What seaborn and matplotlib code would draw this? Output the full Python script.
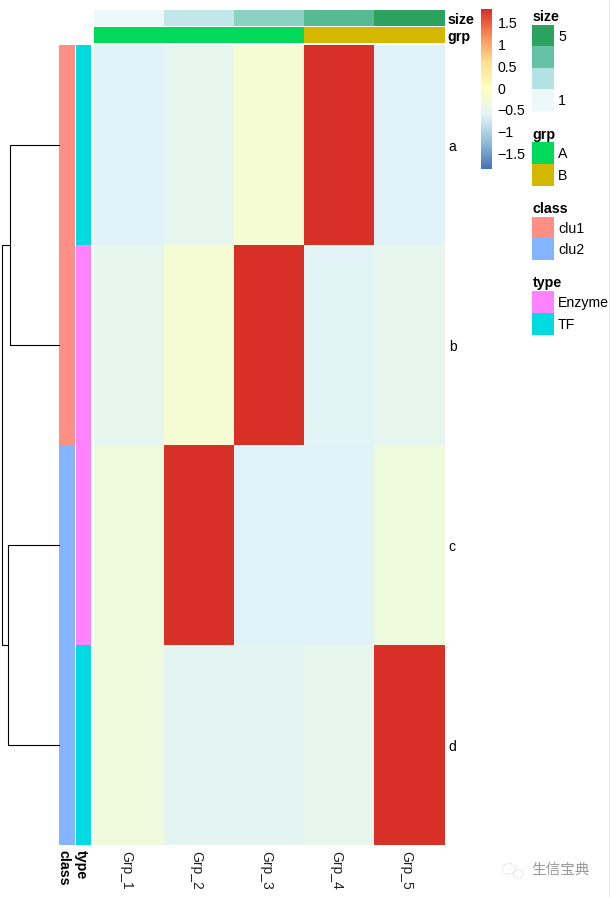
"""Clustered heatmap with row and column annotation bars."""

import numpy as np
import matplotlib
matplotlib.use('Agg')
import matplotlib.pyplot as plt
from matplotlib.colors import LinearSegmentedColormap, ListedColormap
from matplotlib.patches import Ellipse
from matplotlib.transforms import ScaledTranslation
import seaborn as sns

# Data
groups = ['Grp_1', 'Grp_2', 'Grp_3', 'Grp_4', 'Grp_5']
genes = ['a', 'b', 'c', 'd']
values = np.array([
    [-0.60, -0.50, -0.20, 1.80, -0.60],
    [-0.50, -0.20, 1.80, -0.58, -0.50],
    [-0.30, 1.80, -0.60, -0.60, -0.30],
    [-0.30, -0.52, -0.52, -0.48, 1.80],
])
size = [1, 2, 3, 4, 5]
grp = ['A', 'A', 'A', 'B', 'B']
gene_class = ['clu1', 'clu1', 'clu2', 'clu2']
gene_type = ['TF', 'Enzyme', 'Enzyme', 'TF']
heat_ticks = [1.5, 1, 0.5, 0, -0.5, -1, -1.5]
merge_heights = [0.86, 0.895, 1.0]  # ab, cd, root

heat_colors = ['#4575b4', '#91bfdb', '#e0f3f8', '#ffffbf', '#fee090', '#fc8d59', '#d73027']
size_colors = ['#edf8fb', '#b2e2e2', '#66c2a4', '#2ca25f']
grp_colors = {'A': '#00da5a', 'B': '#d4b800'}
class_colors = {'clu1': '#ff8f84', 'clu2': '#82b4ff'}
type_colors = {'Enzyme': '#ff83ff', 'TF': '#00dae0'}

W, H = 610, 897

sns.set_style('white')
plt.rcParams['font.family'] = ['Liberation Sans', 'Noto Sans CJK SC', 'DejaVu Sans']
plt.rcParams['font.size'] = 10
plt.rcParams['text.color'] = 'black'
plt.rcParams['axes.labelcolor'] = 'black'
plt.rcParams['xtick.color'] = 'black'
plt.rcParams['ytick.color'] = 'black'

fig = plt.figure(figsize=(W / 100, H / 100), dpi=100)


def px_axes(x0, y0, x1, y1):
    """Axes placed by pixel box, y counted from the top"""
    ax = fig.add_axes([x0 / W, 1 - y1 / H, (x1 - x0) / W, (y1 - y0) / H])
    return ax


def shift_px(label, dx, dy):
    """Nudge a text by pixels, dy counted downwards"""
    offset = ScaledTranslation(dx / 100, -dy / 100, fig.dpi_scale_trans)
    label.set_transform(label.get_transform() + offset)


def cat_bar(ax, items, palette, vertical=False):
    """Draw one categorical annotation strip"""
    names = list(palette)
    codes = np.array([names.index(i) for i in items], dtype=float)
    codes = codes.reshape(-1, 1) if vertical else codes.reshape(1, -1)
    sns.heatmap(codes, ax=ax, cmap=ListedColormap([palette[n] for n in names]),
                vmin=-0.5, vmax=len(names) - 0.5, cbar=False,
                xticklabels=False, yticklabels=False)


def legend_block(box, title, labels, colors, title_y, tick_rows=None):
    """Stacked colour key with title and labels"""
    ax = px_axes(*box)
    codes = np.arange(len(colors), dtype=float).reshape(-1, 1)
    sns.heatmap(codes, ax=ax, cmap=ListedColormap(colors), cbar=False,
                xticklabels=False, yticklabels=False)
    fig.text(532.5 / W, 1 - (title_y + 2) / H, title, fontweight='bold', fontsize=10.3,
             va='center', ha='left')
    rows = tick_rows if tick_rows is not None else range(len(labels))
    for row, lab in zip(rows, labels):
        txt = ax.text(1.0 + 4 / (box[2] - box[0]), row + 0.5, lab, fontsize=10.2, va='center',
                      ha='left', transform=ax.get_yaxis_transform(), clip_on=False)
        shift_px(txt, 0, 1)


# Main heatmap and colorbar
ax_heat = px_axes(94, 45, 444.6, 845)
ax_cbar = px_axes(481, 9, 492, 169)
cmap = LinearSegmentedColormap.from_list('heat', heat_colors, N=100)
sns.heatmap(values, ax=ax_heat, cmap=cmap, vmin=-1.82, vmax=1.82,
            xticklabels=groups, yticklabels=genes,
            cbar_ax=ax_cbar, cbar_kws={'ticks': heat_ticks})
ax_heat.yaxis.tick_right()
ax_heat.tick_params(axis='both', length=0, labelsize=10)
ax_heat.tick_params(axis='x', pad=4, labelcolor='#222222')
ax_heat.tick_params(axis='y', pad=3)
plt.setp(ax_heat.get_xticklabels(), rotation=270, ha='center', va='top')
plt.setp(ax_heat.get_yticklabels(), rotation=0, ha='left', va='center')
for label in ax_heat.get_xticklabels():
    shift_px(label, -3, 0)
for label in ax_heat.get_yticklabels():
    shift_px(label, 0, 2)

ax_cbar.tick_params(length=0, labelsize=10.2, pad=4)
ax_heat.collections[0].colorbar.outline.set_visible(False)
ax_cbar.set_yticklabels(['1.5', '1', '0.5', '0', '\u22120.5', '\u22121', '\u22121.5'])
for label in ax_cbar.get_yticklabels():
    shift_px(label, 0, -1)

# Column annotations
ax_size = px_axes(94, 10, 444.6, 26)
sns.heatmap(np.array(size, dtype=float).reshape(1, -1), ax=ax_size,
            cmap=LinearSegmentedColormap.from_list('size', size_colors),
            vmin=min(size), vmax=max(size), cbar=False,
            xticklabels=False, yticklabels=False)
ax_grp = px_axes(94, 27, 444.6, 43)
cat_bar(ax_grp, grp, grp_colors)
for ax, name in [(ax_size, 'size'), (ax_grp, 'grp')]:
    txt = ax.text(1.0 + 3 / 351, 0.5, name, transform=ax.transAxes, fontweight='bold',
                  fontsize=10.3, va='center', ha='left', clip_on=False)
    shift_px(txt, 0, 2)

# Row annotations
ax_class = px_axes(59, 45, 75, 845)
cat_bar(ax_class, gene_class, class_colors, vertical=True)
ax_type = px_axes(76, 45, 91, 845)
cat_bar(ax_type, gene_type, type_colors, vertical=True)
for ax, name in [(ax_class, 'class'), (ax_type, 'type')]:
    txt = ax.text(0.5, -5 / 800, name, transform=ax.transAxes, rotation=270, fontweight='bold',
                  fontsize=10.3, va='top', ha='center', clip_on=False)
    shift_px(txt, -3, 0)

# Row dendrogram
ax_tree = px_axes(2, 45, 59, 845)
ax_tree.set_xlim(1.0, 0.0)
ax_tree.set_ylim(len(genes), 0)
ax_tree.axis('off')
y_leaf = np.arange(len(genes)) + 0.5
h_ab, h_cd, h_root = merge_heights
y_ab, y_cd = y_leaf[:2].mean(), y_leaf[2:].mean()
tree = dict(color='black', lw=0.8, clip_on=False, solid_joinstyle='miter')
ax_tree.plot([0, h_ab, h_ab, 0], [y_leaf[0], y_leaf[0], y_leaf[1], y_leaf[1]], **tree)
ax_tree.plot([0, h_cd, h_cd, 0], [y_leaf[2], y_leaf[2], y_leaf[3], y_leaf[3]], **tree)
ax_tree.plot([h_ab, h_root, h_root, h_cd], [y_ab, y_ab, y_cd, y_cd], **tree)

# Legends
legend_block((532, 25, 554, 111), 'size', ['5', '1'], size_colors[::-1], 15, tick_rows=[0, 3])
legend_block((532, 142, 554, 186), 'grp', list(grp_colors),
             list(grp_colors.values()), 133)
legend_block((532, 217, 554, 260), 'class', list(class_colors),
             list(class_colors.values()), 207)
legend_block((532, 291, 554, 335), 'type', list(type_colors),
             list(type_colors.values()), 281)

# Watermark
fig.text(531 / W, 1 - 870 / H, '生信宝典', fontsize=10.5, color='#9a9a9a', va='center', ha='left',
         family=['Noto Sans CJK SC', 'DejaVu Sans'])
ax_mark = fig.add_axes([0, 0, 1, 1], facecolor='none')
ax_mark.set_xlim(0, W)
ax_mark.set_ylim(H, 0)
ax_mark.axis('off')
ax_mark.add_patch(Ellipse((509, 869), 13, 11, fill=False, ec='#c4c4c4', lw=0.6, ls=':'))
ax_mark.add_patch(Ellipse((518, 874), 10, 8, fill=False, ec='#c4c4c4', lw=0.6, ls=':'))
ax_mark.axvline(609.5, color='#8a8a8a', lw=1)

fig.savefig('out.png', dpi=100, facecolor='white')
plt.close(fig)
